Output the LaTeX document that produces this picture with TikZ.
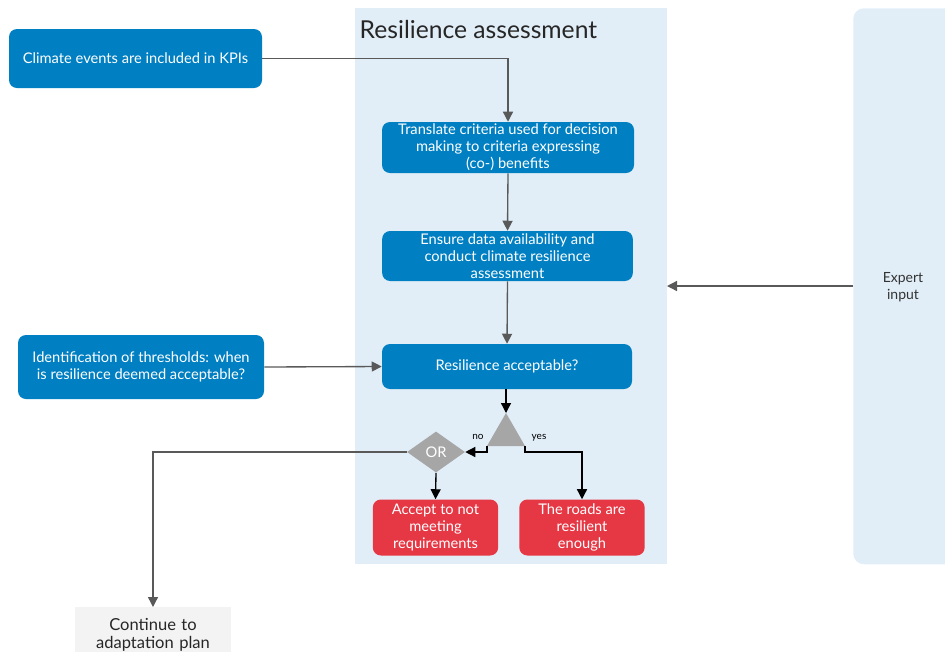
\documentclass[tikz,border=0pt]{standalone}
\usepackage{fontspec}
\setmainfont{Lato}
\usetikzlibrary{arrows.meta,shapes.geometric}
\definecolor{stepblue}{HTML}{0080C3}
\definecolor{panelblue}{HTML}{E1EEF7}
\definecolor{endred}{HTML}{E63744}
\definecolor{gategray}{HTML}{A6A6A6}
\definecolor{wiregray}{HTML}{595959}
\definecolor{notegray}{HTML}{F3F3F3}
\begin{document}
\begin{tikzpicture}[x=0.75pt, y=-0.75pt,
  font=\fontsize{11}{12.75}\selectfont,
  bluebox/.style={fill=stepblue, text=white, rounded corners=6pt, align=center, inner sep=0pt},
  redbox/.style={fill=endred, text=white, rounded corners=6pt, align=center, inner sep=0pt,
    minimum width=94pt, minimum height=42pt, font=\fontsize{11}{13}\selectfont},
  a/.style={-{Triangle[width=7.5pt, length=7.5pt]}, line width=1pt, draw=wiregray},
  b/.style={-{Triangle[width=7.5pt, length=7.5pt]}, line width=1pt, draw=black}]

  \useasboundingbox (0,0) rectangle (945,651);
  \clip (0,0) rectangle (945,651);

  % background panels
  \fill[panelblue] (355,8) rectangle (667,564);
  \node[anchor=north west, font=\fontsize{18.5}{22}\selectfont, text=black!85] (title) at (355,16) {Resilience assessment};
  \node[fill=panelblue, rounded corners=8pt, minimum width=150pt, minimum height=417pt,
    anchor=north west, inner sep=0pt] (expert) at (853,8) {};
  \node[align=center, text=black!80, font=\fontsize{10.5}{13}\selectfont] (expertlbl) at (903,287) {Expert\\input};

  % inputs on the left
  \node[bluebox, minimum width=189.75pt, minimum height=44.25pt] (climate) at (135.5,58.5)
    {Climate events are included in KPIs};
  \node[bluebox, minimum width=184.5pt, minimum height=48pt] (thresh) at (141,367)
    {Identification of thresholds: when\\is resilience deemed acceptable?};

  % assessment steps
  \node[bluebox, minimum width=189pt, minimum height=38.25pt] (translate) at (508,147.5)
    {Translate criteria used for decision\\making to criteria expressing\\(co-) benefits};
  \node[bluebox, minimum width=188pt, minimum height=37.5pt] (ensure) at (507.5,256)
    {Ensure data availability and\\conduct climate resilience\\assessment};
  \node[bluebox, minimum width=187.5pt, minimum height=33.75pt] (accept) at (507,366.5)
    {Resilience acceptable?};

  % decision triangle and OR gate
  \coordinate (gtop) at (506,413);
  \coordinate (gleft) at (487,446);
  \coordinate (gright) at (525,446);
  \fill[gategray] (gtop) -- (gright) -- (gleft) -- cycle;
  \node[diamond, fill=gategray, text=white, inner sep=0pt, aspect=1.41,
    minimum width=43.5pt, minimum height=30.75pt] (orgate) at (436,452) {OR};
  \node[font=\fontsize{7.5}{9}\selectfont] (nolbl) at (478,437) {no};
  \node[font=\fontsize{7.5}{9}\selectfont] (yeslbl) at (539,438) {yes};

  % outcomes
  \node[redbox] (notmeet) at (435.5,527.5) {Accept to not\\meeting\\requirements};
  \node[redbox] (roads) at (582,527.5) {The roads are\\resilient\\enough};
  \node[fill=notegray, text width=117pt, anchor=north, align=center, inner xsep=0pt,
    inner ysep=8pt, text=black!85, font=\fontsize{12.4}{13.5}\selectfont] (cont) at (153,607)
    {Continue to\\adaptation plan\\[4pt]};

  % connectors
  \draw[a] (climate.east) -| (translate.north);
  \draw[a] (translate.south) -- (ensure.north);
  \draw[a] (ensure.south) -- (accept.north);
  \draw[a] (thresh.east) -- (accept.west);
  \draw[a] (expert.west |- 0,286) -- (667,286);
  \draw[b] (accept.south -| gtop) -- (gtop);
  \draw[b] (gleft) |- (orgate.east);
  \draw[b] (gright) -- ++(0,6) -| (roads.north);
  \draw[b] (orgate.south) -- (notmeet.north);
  \draw[b, draw=wiregray] (orgate.west) -| (cont.north);

\end{tikzpicture}
\end{document}
